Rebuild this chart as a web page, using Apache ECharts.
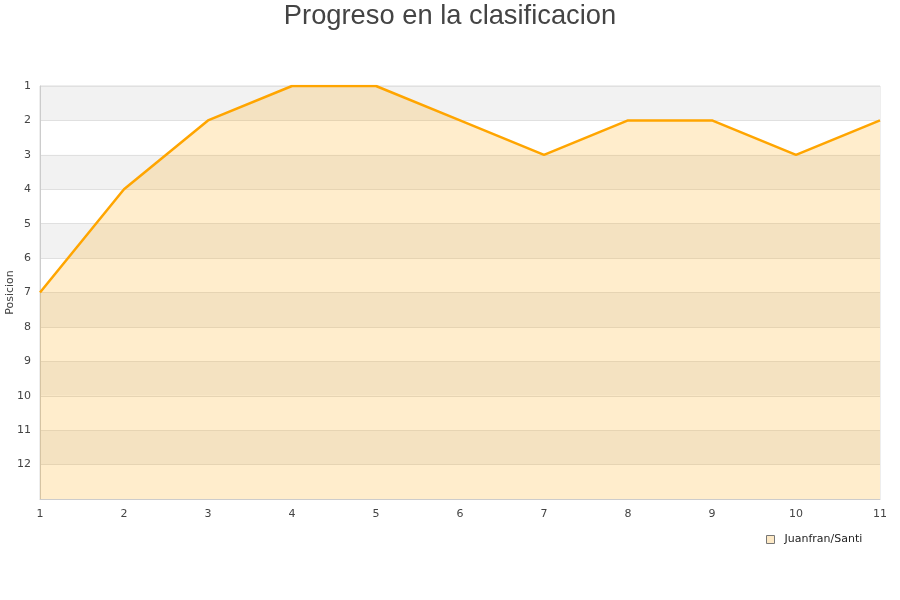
<!DOCTYPE html>
<html><head><meta charset="utf-8">
<script src="https://cdn.jsdelivr.net/npm/echarts@6/dist/echarts.min.js"></script>
<style>html,body{margin:0;padding:0;background:#fff}#c{width:900px;height:600px}</style>
</head><body><div id="c"></div>
<script>
const jornadas = [1,2,3,4,5,6,7,8,9,10,11];
const posiciones = [7,4,2,1,1,2,3,2,2,3,2];
const seriesName = 'Juanfran/Santi';
const titleText = 'Progreso en la clasificacion';

const chart = echarts.init(document.getElementById('c'));
chart.setOption({
  animation: false,
  title: { text: titleText, left: 'center', top: -2,
    textStyle: { fontFamily: 'Liberation Sans', fontSize: 27.3, fontWeight: 'normal', color: '#444' } },
  grid: { left: 40, right: 20, top: 86, bottom: 101, show: true, borderColor: '#ddd', borderWidth: 1,
    backgroundColor: 'transparent', containLabel: false, outerBoundsMode: 'none' },
  legend: { data: [{ name: seriesName, icon: 'rect',
      itemStyle: { color: '#fde9c6', borderColor: '#777', borderWidth: 1 } }],
    left: 761, top: 529, itemWidth: 8, itemHeight: 8, itemGap: 6,
    textStyle: { fontFamily: 'DejaVu Sans', fontSize: 11, color: '#222', padding: [0, 0, 0, 5] } },
  xAxis: { type: 'value', min: 1, max: 11, interval: 1,
    axisLine: { show: true, lineStyle: { color: '#ccc' } }, axisTick: { show: false },
    splitLine: { show: false },
    axisLabel: { fontFamily: 'DejaVu Sans', fontSize: 11, color: '#444', margin: 10 } },
  yAxis: { type: 'value', inverse: true, min: 1, max: 13, interval: 1,
    name: 'Posicion', nameLocation: 'middle', nameGap: 24, nameMoveOverlap: false,
    nameTextStyle: { fontFamily: 'DejaVu Sans', fontSize: 11, color: '#444' },
    axisLine: { show: true, lineStyle: { color: '#ccc' } }, axisTick: { show: false },
    axisLabel: { fontFamily: 'DejaVu Sans', fontSize: 11, color: '#444', margin: 9,
      formatter: v => v >= 13 ? '' : String(v) },
    splitLine: { show: true, lineStyle: { color: '#e0e0e0' } },
    splitArea: { show: true, areaStyle: { color: ['#f2f2f2', '#ffffff'] } } },
  series: [{
    name: seriesName, type: 'line', data: jornadas.map((j, i) => [j, posiciones[i]]),
    showSymbol: false, symbol: 'none',
    lineStyle: { color: '#ffa500', width: 2.5 },
    itemStyle: { color: '#ffa500' },
    areaStyle: { color: 'rgba(255,165,0,0.2)', opacity: 1, origin: 'end' }
  }]
});
</script></body></html>
